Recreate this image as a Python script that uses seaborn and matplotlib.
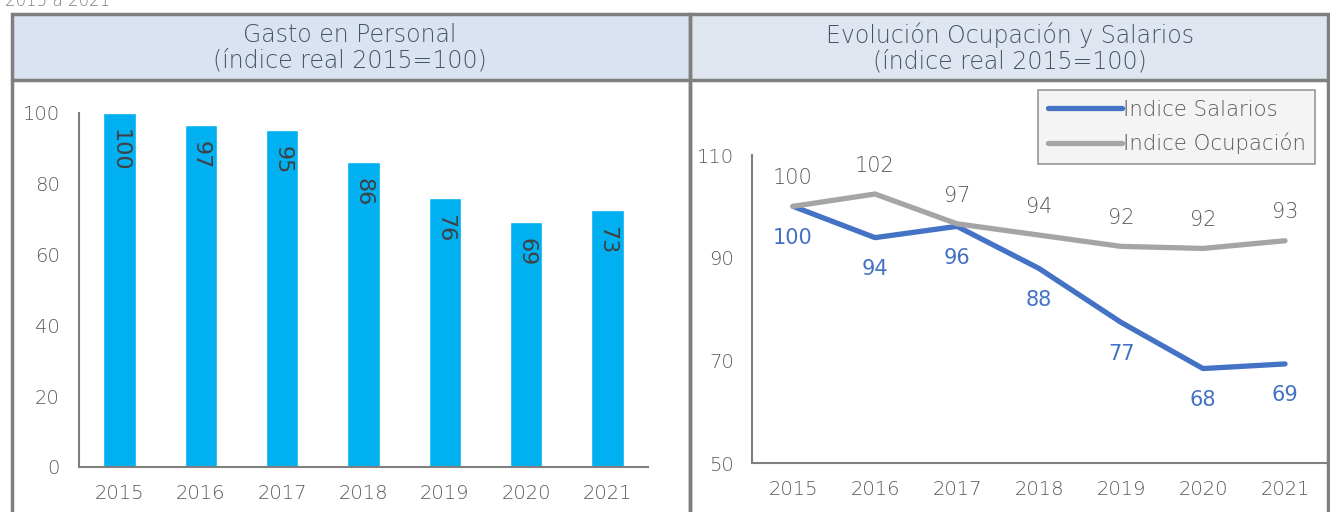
import numpy as np
import pandas as pd
import seaborn as sns
import matplotlib.pyplot as plt
from matplotlib.patches import Rectangle
from matplotlib.lines import Line2D

# data
years = [2015, 2016, 2017, 2018, 2019, 2020, 2021]
gasto = [100, 96.6, 95.2, 86.2, 76.1, 69.3, 72.6]
gasto_labels = ['100', '97', '95', '86', '76', '69', '73']
salarios = [100, 93.9, 96.1, 87.9, 77.4, 68.4, 69.3]
salarios_labels = ['100', '94', '96', '88', '77', '68', '69']
ocupacion = [100, 102.4, 96.6, 94.4, 92.2, 91.8, 93.3]
ocupacion_labels = ['100', '102', '97', '94', '92', '92', '93']

W, H = 1330, 512
sns.set_style('white')
plt.rcParams['font.family'] = ['DejaVu Sans']
plt.rcParams['font.weight'] = 'light'

txt = '#595959'
fig = plt.figure(figsize=(W / 100, H / 100), dpi=100)


def fx(x):
    return x / W


def fy(y):
    return 1 - y / H


def box(x0, y0, x1, y1, **kw):
    fig.patches.append(Rectangle((fx(x0), fy(y1)), fx(x1) - fx(x0), fy(y0) - fy(y1),
                                 transform=fig.transFigure, **kw))


# header bands and frames
box(12, 14, 690, 80, facecolor='#dae3f1', edgecolor='none', zorder=0)
box(690, 14, 1328, 80, facecolor='#dfe6ef', edgecolor='none', zorder=0)
frame = dict(facecolor='none', edgecolor='#7f7f7f', linewidth=2.5, zorder=5)
box(12, 14, 690, 530, **frame)
box(690, 14, 1328, 530, **frame)
fig.add_artist(Line2D([fx(12), fx(1328)], [fy(80), fy(80)], transform=fig.transFigure,
                      color='#7f7f7f', lw=2.5))

fig.text(fx(5), fy(1), '2015 a 2021', color='#7f7f7f', fontsize=12, va='center')
fig.text(fx(350), fy(48), 'Gasto en Personal\n(índice real 2015=100)', ha='center', va='center',
         fontsize=17, color='#44546a', linespacing=1.1)
fig.text(fx(1010), fy(48), 'Evolución Ocupación y Salarios\n(índice real 2015=100)', ha='center',
         va='center', fontsize=17, color='#44546a', linespacing=1.1)


def style_axis(ax, ypad):
    for s in ['top', 'right']:
        ax.spines[s].set_visible(False)
    for s in ['left', 'bottom']:
        ax.spines[s].set_color('#808080')
        ax.spines[s].set_linewidth(1.5)
    ax.tick_params(axis='y', which='major', length=5, width=1.2, color='#808080',
                   labelsize=14, labelcolor=txt, pad=ypad)
    ax.tick_params(axis='x', which='major', length=0, labelsize=14, labelcolor=txt, pad=12)
    ax.tick_params(axis='x', which='minor', length=5, width=1.2, color='#808080', direction='in')
    ax.set_xlabel('')
    ax.set_ylabel('')


# left: bar chart
ax1 = fig.add_axes([fx(79), fy(467), fx(648) - fx(79), fy(113) - fy(467)])
df1 = pd.DataFrame({'year': [str(y) for y in years], 'gasto': gasto})
sns.barplot(data=df1, x='year', y='gasto', color='#00b0f0', saturation=1, width=0.4, ax=ax1)
ax1.set_ylim(0, 100)
ax1.set_xlim(-0.5, 6.5)
ax1.set_yticks(range(0, 101, 20))
ax1.set_xticks(np.arange(-0.5, 7, 1), minor=True)
style_axis(ax1, 9)
for i, (v, lab) in enumerate(zip(gasto, gasto_labels)):
    ax1.text(i, v - 4.6, lab, rotation=270, ha='center', va='top', fontsize=16,
             color='#404040', fontweight='normal')

# right: line chart
ax2 = fig.add_axes([fx(752), fy(463), fx(1326) - fx(752), fy(155) - fy(463)])
df2 = pd.DataFrame({'year': years * 2,
                    'valor': salarios + ocupacion,
                    'serie': ['Indice Salarios'] * 7 + ['Indice Ocupación'] * 7})
sns.lineplot(data=df2, x='year', y='valor', hue='serie',
             palette={'Indice Salarios': '#4472c4', 'Indice Ocupación': '#a5a5a5'},
             linewidth=3.8, ax=ax2, legend=False)
ax2.set_ylim(50, 110)
ax2.set_xlim(2014.5, 2021.5)
ax2.set_yticks([50, 70, 90, 110])
ax2.set_xticks(years)
ax2.set_xticks(np.arange(2014.5, 2022, 1), minor=True)
style_axis(ax2, 8)
ax2.spines['left'].set_bounds(50, 110)
for x, v, lab in zip(years, salarios, salarios_labels):
    ax2.text(x, v - 6.1, lab, ha='center', va='center', fontsize=15, color='#4472c4',
             fontweight='normal')
for x, v, lab in zip(years, ocupacion, ocupacion_labels):
    ax2.text(x, v + 5.5, lab, ha='center', va='center', fontsize=15, color=txt)

handles = [Line2D([], [], color='#4472c4', lw=3.8), Line2D([], [], color='#a5a5a5', lw=3.8)]
leg = ax2.legend(handles, ['Indice Salarios', 'Indice Ocupación'], loc='upper right',
                 bbox_to_anchor=(1.0, 1.245), fontsize=15.3, frameon=True, fancybox=False,
                 handlelength=3.5, handletextpad=0.05, borderpad=0.45, labelspacing=0.62,
                 borderaxespad=0.5, labelcolor=txt)
leg.get_frame().set_facecolor('#f2f2f2')
leg.get_frame().set_edgecolor('#7f7f7f')
leg.get_frame().set_linewidth(1.2)

fig.savefig('out.png', dpi=100)
